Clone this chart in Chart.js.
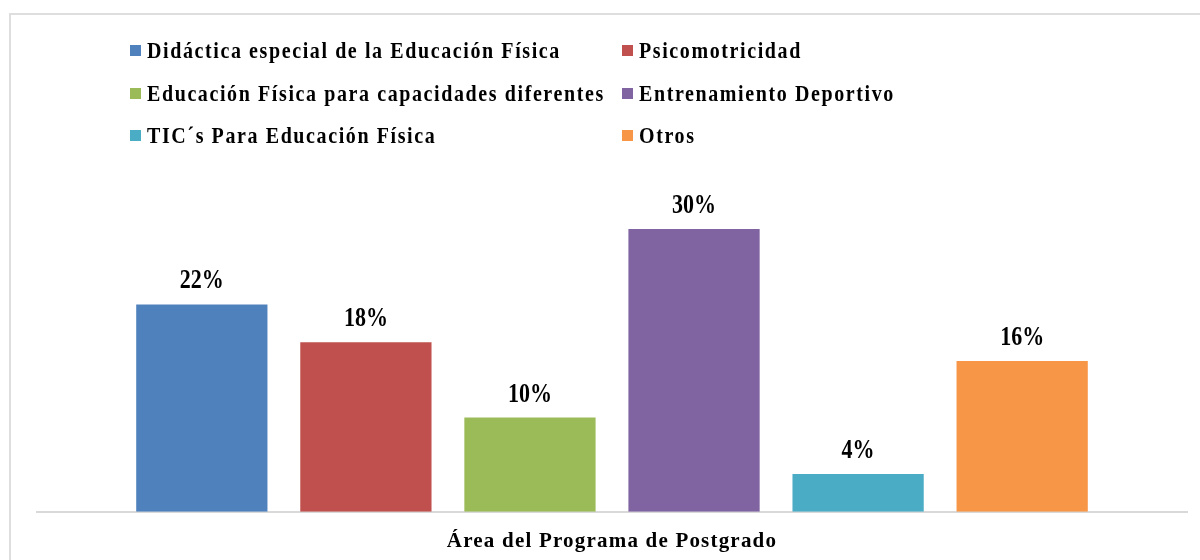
<!DOCTYPE html>
<html>
<head>
<meta charset="utf-8">
<script src="https://cdn.jsdelivr.net/npm/chart.js@4/dist/chart.umd.min.js"></script>
<style>
  html, body { margin: 0; padding: 0; background: #ffffff; }
  #wrap { position: relative; width: 1200px; height: 560px; overflow: hidden; background: #fff; }
  #frame { position: absolute; left: 9px; top: 13px; width: 1300px; height: 700px; border: 2px solid #dedede; box-sizing: border-box; }
  #chart { position: absolute; left: 0; top: 0; }
  .leg { position: absolute; font-family: "Liberation Serif", "Times New Roman", serif; font-weight: bold; font-size: 20px; letter-spacing: 1.6px; color: #000; white-space: nowrap; line-height: 1; }
  .leg .box { position: absolute; width: 11px; height: 11px; left: 0; top: 50%; margin-top: -5px; }
  .leg .txt { position: absolute; left: 17px; top: 0; display: inline-block; transform: scaleY(1.15); transform-origin: 50% 50%; }
</style>
</head>
<body>
<div id="wrap">
  <div id="frame"></div>
  <canvas id="chart" width="1200" height="560"></canvas>
  <div id="legend"></div>
</div>
<script>
// ---- data ----
const categories = ["Área del Programa de Postgrado"];
const seriesNames = [
  "Didáctica especial de la Educación Física",
  "Psicomotricidad",
  "Educación Física para capacidades diferentes",
  "Entrenamiento Deportivo",
  "TIC´s Para Educación Física",
  "Otros"
];
const seriesValues = [22, 18, 10, 30, 4, 16];
const seriesColors = ["#4F81BD", "#C0504D", "#9BBB59", "#8064A2", "#4BACC6", "#F79646"];
const axisTitle = "Área del Programa de Postgrado";

// ---- HTML legend (two columns, three rows) ----
const legendEl = document.getElementById('legend');
const legCols = [130, 622];
const legRows = [50, 93, 135];
seriesNames.forEach((name, i) => {
  const col = i % 2, row = Math.floor(i / 2);
  const item = document.createElement('div');
  item.className = 'leg';
  item.style.left = legCols[col] + 'px';
  item.style.top = (legRows[row] - 10) + 'px';
  item.style.height = '20px';
  const box = document.createElement('span');
  box.className = 'box';
  box.style.background = seriesColors[i];
  const txt = document.createElement('span');
  txt.className = 'txt';
  txt.textContent = name;
  item.appendChild(box);
  item.appendChild(txt);
  legendEl.appendChild(item);
});

// ---- plugins ----
const spacingPlugin = {
  id: 'spacing',
  beforeDraw(chart) { chart.ctx.letterSpacing = '1.2px'; },
  afterDraw(chart) { chart.ctx.letterSpacing = '0px'; }
};

const valueLabels = {
  id: 'valueLabels',
  afterDatasetsDraw(chart) {
    const ctx = chart.ctx;
    chart.data.datasets.forEach((ds, i) => {
      const meta = chart.getDatasetMeta(i);
      meta.data.forEach((bar, j) => {
        const v = ds.data[j];
        ctx.save();
        ctx.letterSpacing = '0px';
        ctx.font = 'bold 22px "Liberation Serif", "Times New Roman", serif';
        ctx.fillStyle = '#000';
        ctx.textAlign = 'center';
        ctx.textBaseline = 'alphabetic';
        ctx.translate(bar.x, bar.y - 16);
        ctx.scale(1, 1.2);
        ctx.fillText(v + '%', 0, 0);
        ctx.restore();
      });
    });
  }
};

// ---- chart ----
const datasets = seriesNames.map((name, i) => ({
  label: name,
  data: [seriesValues[i]],
  backgroundColor: seriesColors[i],
  borderWidth: 0,
  barPercentage: 0.8,
  categoryPercentage: 0.856
}));

new Chart(document.getElementById('chart'), {
  type: 'bar',
  data: { labels: categories, datasets },
  options: {
    responsive: false,
    devicePixelRatio: 1,
    animation: false,
    layout: { padding: { left: 37, right: 13, top: 182, bottom: 0 } },
    plugins: {
      legend: { display: false },
      tooltip: { enabled: false },
      title: { display: false }
    },
    scales: {
      x: {
        grid: { display: false },
        border: { display: true, color: '#d9d9d9', width: 2 },
        ticks: { display: false },
        title: {
          display: true,
          text: axisTitle,
          color: '#000',
          font: { family: '"Liberation Serif", "Times New Roman", serif', size: 21, weight: 'bold', lineHeight: 1.2 },
          padding: { top: 9, bottom: 6 }
        }
      },
      y: {
        display: false,
        min: 0,
        max: 35,
        beginAtZero: true
      }
    }
  },
  plugins: [spacingPlugin, valueLabels]
});
</script>
</body>
</html>
